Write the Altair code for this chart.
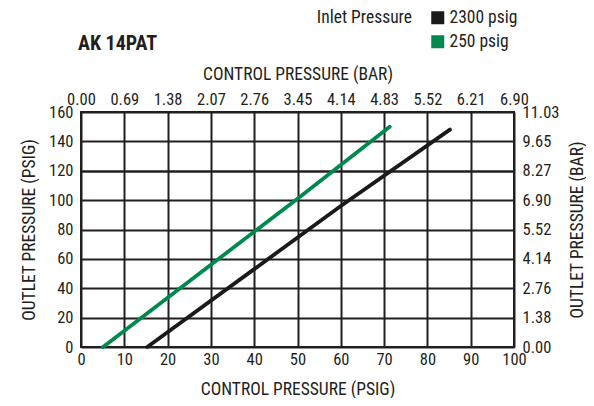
import altair as alt
import pandas as pd

# Curves (control pressure psig -> outlet pressure psig)
series = ["2300 psig", "250 psig"]
black_x = [15.3, 40, 60, 85.2]
black_y = [0, 53, 96, 148]
green_x = [5.1, 30, 50, 71.3]
green_y = [0, 56, 101, 150]

x_ticks = [0, 10, 20, 30, 40, 50, 60, 70, 80, 90, 100]
y_ticks = [0, 20, 40, 60, 80, 100, 120, 140, 160]
bar_top_labels = ["0.00", "0.69", "1.38", "2.07", "2.76", "3.45", "4.14", "4.83", "5.52", "6.21", "6.90"]
bar_right_labels = ["0.00", "1.38", "2.76", "4.14", "5.52", "6.90", "8.27", "9.65", "11.03"]
colors = ["#1a1a1a", "#00894f"]

df = pd.DataFrame(
    [{"s": series[0], "x": a, "y": b} for a, b in zip(black_x, black_y)]
    + [{"s": series[1], "x": a, "y": b} for a, b in zip(green_x, green_y)]
)

FONT = "Liberation Sans Narrow, Roboto Condensed, DejaVu Sans Condensed, sans-serif"
TXT = "#231f20"

def arr(lst):
    return "[" + ",".join("'" + s + "'" for s in lst) + "]"

xs = alt.Scale(domain=[0, 100], nice=False, zero=False)
ys = alt.Scale(domain=[0, 160], nice=False, zero=False)
cscale = alt.Scale(domain=series, range=colors)

# invisible filled squares: carry the bottom/left axes + grid and give the legend filled swatches
swatches = alt.Chart(df).mark_square(filled=True, opacity=0).encode(
    x=alt.X("x:Q", scale=xs, axis=alt.Axis(
        orient="bottom", values=x_ticks, title="CONTROL PRESSURE (PSIG)",
        grid=True, gridColor=TXT, gridWidth=2, gridOpacity=1, labelFlush=False,
        ticks=False, domain=False, labelPadding=4, titlePadding=13)),
    y=alt.Y("y:Q", scale=ys, axis=alt.Axis(
        orient="left", values=y_ticks, title="OUTLET PRESSURE (PSIG)",
        grid=True, gridColor=TXT, gridOpacity=1, labelFlush=False,
        gridWidth={"condition": {"test": "datum.value == 120", "value": 2.6}, "value": 2},
        ticks=False, domain=False, labelPadding=8, titlePadding=10)),
    color=alt.Color("s:N", scale=cscale,
                    legend=alt.Legend(title=None, orient="none", padding=0,
                                      legendX=348, legendY=-103,
                                      symbolType="square", symbolSize=169,
                                      symbolOpacity=1, symbolStrokeWidth=0,
                                      rowPadding=5, labelOffset=3)),
)

lines = alt.Chart(df).mark_line(strokeWidth=3.8, strokeCap="round").encode(
    x=alt.X("x:Q", scale=xs, axis=None),
    y=alt.Y("y:Q", scale=ys, axis=None),
    color=alt.Color("s:N", scale=cscale),
    detail="s:N",
)

secondary = alt.Chart(df).mark_line(opacity=0).encode(
    x=alt.X("x:Q", scale=xs, axis=alt.Axis(
        orient="top", values=x_ticks, title="CONTROL PRESSURE (BAR)",
        labelExpr=arr(bar_top_labels) + "[round(datum.value/10)]", labelFlush=False,
        grid=False, ticks=False, domain=False, labelPadding=5, titlePadding=8)),
    y=alt.Y("y:Q", scale=ys, axis=alt.Axis(
        orient="right", values=y_ticks, title="OUTLET PRESSURE (BAR)",
        labelExpr=arr(bar_right_labels) + "[round(datum.value/20)]", labelFlush=False,
        titleAngle=270, titleBaseline="top", grid=False, ticks=False, domain=False,
        labelPadding=8, titlePadding=10)),
    detail="s:N",
)

title = alt.Chart(pd.DataFrame({"t": ["AK 14PAT"]})).mark_text(
    align="left", baseline="middle", fontWeight="bold", fontSize=20, font=FONT, color=TXT
).encode(text="t:N", x=alt.value(-3), y=alt.value(-68))

legend_title = alt.Chart(pd.DataFrame({"t": ["Inlet Pressure"]})).mark_text(
    align="right", baseline="middle", fontSize=17.5, font=FONT, color=TXT
).encode(text="t:N", x=alt.value(331), y=alt.value(-94))

chart = alt.layer(swatches, lines, secondary, title, legend_title).resolve_scale(
    x="independent", y="independent"
).properties(
    width=433, height=235,
    autosize=alt.AutoSizeParams(type="none"),
    padding={"left": 73, "top": 104, "right": 72, "bottom": 51},
).configure_view(
    stroke=TXT, strokeWidth=2
).configure_axis(
    labelFont=FONT, titleFont=FONT, labelFontSize=16.5, titleFontSize=17.5,
    labelColor=TXT, titleColor=TXT, titleFontWeight="normal"
).configure_legend(
    labelFont=FONT, labelFontSize=17.5, labelColor=TXT
)

chart.save("out.html", embed_options={"renderer": "svg", "actions": False})
